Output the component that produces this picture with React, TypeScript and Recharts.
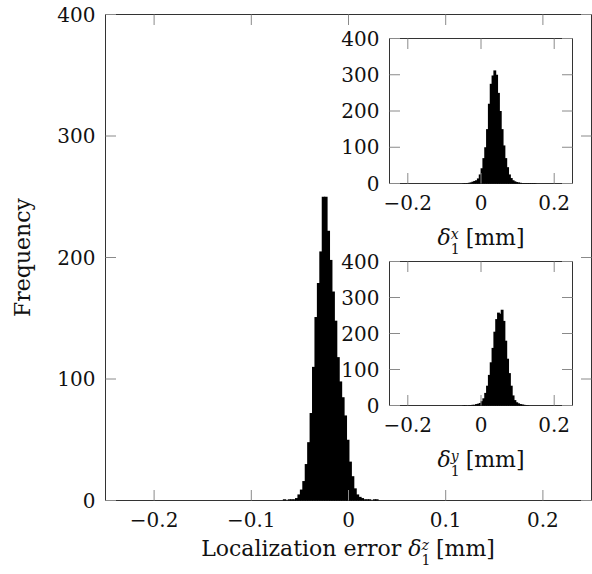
import React from 'react';
import { BarChart, Bar, XAxis, YAxis, ReferenceArea } from 'recharts';

// histogram of delta_1^z, bin edges start at zBinStart
const zBinStart = -0.0693;
const zBinWidth = 0.0025;
const zCounts = [
  0, 1, 0, 1, 1, 1, 2, 5, 9, 16, 30, 48, 72, 110, 151, 179, 205, 250,
  250, 222, 198, 172, 148, 118, 98, 85, 70, 50, 32, 20, 10, 5, 3, 2, 1, 1,
  1, 0, 1, 1,
];

// insets: delta_1^x and delta_1^y
const insetBinWidth = 0.005;
const xBinStart = -0.05;
const xCounts = [
  1, 1, 1, 2, 3, 5, 7, 9, 14, 25, 42, 70, 100, 150, 220, 275, 298, 312, 300, 250,
  200, 150, 105, 70, 45, 25, 15, 9, 6, 4, 3, 2, 1, 1, 1, 1, 1, 1, 1, 1,
];
const yBinStart = -0.05;
const yCounts = [
  1, 1, 0, 1, 1, 2, 2, 4, 5, 7, 12, 20, 35, 55, 85, 120, 160, 205, 240, 258,
  255, 266, 235, 180, 130, 90, 55, 28, 15, 9, 6, 4, 3, 2, 1, 1,
];

const mainXTicks = [-0.2, -0.1, 0, 0.1, 0.2];
const insetXTicks = [-0.2, 0, 0.2];
const yTicks = [0, 100, 200, 300, 400];

const X_DOMAIN: [number, number] = [-0.25, 0.25];
const FONT = 'DejaVu Serif';
const TICK_LEN = 10.5;
const TICK_COLOR = '#8a8a8a';
const FRAME_COLOR = '#333';
const TEXT_COLOR = '#111';

const toBins = (start: number, width: number, counts: number[]) =>
  counts.map((count, i) => ({ x: start + width * (i + 0.5), count }));

const fmt = (v: number) => (v < 0 ? `\u2212${Math.abs(v)}` : `${v}`);

interface Plot {
  left: number;
  top: number;
  right: number;
  bottom: number;
}

interface HistProps {
  data: Array<{ x: number; count: number }>;
  binWidth: number;
  left: number;
  top: number;
  width: number;
  height: number;
  plot: Plot; // plot frame in chart coords
  xTicks: number[];
}

const Histogram: React.FC<HistProps> = ({ data, binWidth, left, top, width, height, plot, xTicks }) => {
  // recharts shrinks/floors bar widths, so draw each bar at the full bin width
  // (plus a bit of overlap so antialiasing leaves no seams)
  const barPx = (binWidth * (plot.right - plot.left)) / (X_DOMAIN[1] - X_DOMAIN[0]) + 1;

  const BinShape = (props: any) => {
    const { x, y, width: w, height: h } = props;
    if (!h || h <= 0) return null;
    const cx = x + w / 2;
    return <rect x={cx - barPx / 2} y={y} width={barPx} height={h} fill="#000" />;
  };

  const XTick = (props: any) => {
    const { x, y, payload } = props;
    return (
      <g>
        <line x1={x} x2={x} y1={y} y2={y - TICK_LEN} stroke={TICK_COLOR} />
        <line x1={x} x2={x} y1={plot.top} y2={plot.top + TICK_LEN} stroke={TICK_COLOR} />
        <text x={x} y={y + 26} textAnchor="middle" fontFamily={FONT} fontSize={20} fill={TEXT_COLOR}>
          {fmt(payload.value)}
        </text>
      </g>
    );
  };

  const YTick = (props: any) => {
    const { x, y, payload } = props;
    return (
      <g>
        <line x1={x} x2={x + TICK_LEN} y1={y} y2={y} stroke={TICK_COLOR} />
        <line x1={plot.right - TICK_LEN} x2={plot.right} y1={y} y2={y} stroke={TICK_COLOR} />
        <text x={x - 10} y={y + 7} textAnchor="end" fontFamily={FONT} fontSize={20} fill={TEXT_COLOR}>
          {payload.value}
        </text>
      </g>
    );
  };

  return (
    <div style={{ position: 'absolute', left, top }}>
      <BarChart
        width={width}
        height={height}
        data={data}
        barCategoryGap={0}
        barGap={0}
        margin={{ top: plot.top, right: width - plot.right, bottom: 0, left: 0 }}
      >
        <XAxis
          dataKey="x"
          type="number"
          domain={X_DOMAIN}
          ticks={xTicks}
          interval={0}
          allowDataOverflow
          axisLine={false}
          tickLine={false}
          tickSize={0}
          tickMargin={0}
          height={height - plot.bottom}
          tick={XTick}
        />
        <YAxis
          type="number"
          domain={[0, 400]}
          ticks={yTicks}
          interval={0}
          axisLine={false}
          tickLine={false}
          tickSize={0}
          tickMargin={0}
          width={plot.left}
          tick={YTick}
        />
        <Bar dataKey="count" fill="#000" shape={BinShape} isAnimationActive={false} />
        <ReferenceArea
          x1={X_DOMAIN[0]}
          x2={X_DOMAIN[1]}
          y1={0}
          y2={400}
          fill="none"
          stroke={FRAME_COLOR}
          strokeWidth={1}
          ifOverflow="visible"
        />
      </BarChart>
    </div>
  );
};

const AxisLabel: React.FC<{ x: number; y: number; sup: string }> = ({ x, y, sup }) => (
  <text x={x} y={y} textAnchor="middle" fontFamily={FONT} fontSize={22} fill={TEXT_COLOR}>
    <tspan fontStyle="italic">δ</tspan>
    <tspan fontSize={14} dy={9}>1</tspan>
    <tspan fontSize={14} fontStyle="italic" dx={-8.9} dy={-15}>
      {sup}
    </tspan>
    <tspan dy={6}>{' [mm]'}</tspan>
  </text>
);

export default function App() {
  const zData = toBins(zBinStart, zBinWidth, zCounts);
  const xData = toBins(xBinStart, insetBinWidth, xCounts);
  const yData = toBins(yBinStart, insetBinWidth, yCounts);

  return (
    <div style={{ position: 'absolute', left: 0, top: 0, width: 592, height: 574, background: '#fff' }}>
      <Histogram
        data={zData}
        binWidth={zBinWidth}
        left={0}
        top={0}
        width={592}
        height={574}
        plot={{ left: 105.5, top: 14.5, right: 591.5, bottom: 500.5 }}
        xTicks={mainXTicks}
      />
      {/* delta x inset */}
      <Histogram
        data={xData}
        binWidth={insetBinWidth}
        left={330}
        top={20}
        width={250}
        height={210}
        plot={{ left: 59.5, top: 18.5, right: 242.5, bottom: 163.5 }}
        xTicks={insetXTicks}
      />
      {/* delta y inset */}
      <Histogram
        data={yData}
        binWidth={insetBinWidth}
        left={330}
        top={240}
        width={250}
        height={210}
        plot={{ left: 59.5, top: 21.5, right: 242.5, bottom: 165.5 }}
        xTicks={insetXTicks}
      />
      <svg
        width={592}
        height={574}
        style={{ position: 'absolute', left: 0, top: 0, pointerEvents: 'none' }}
      >
        <text
          x={30}
          y={257.5}
          transform="rotate(-90 30 257.5)"
          textAnchor="middle"
          fontFamily={FONT}
          fontSize={22}
          fill={TEXT_COLOR}
        >
          Frequency
        </text>
        <text x={348} y={556} textAnchor="middle" fontFamily={FONT} fontSize={22} fill={TEXT_COLOR}>
          {'Localization error '}
          <tspan fontStyle="italic">δ</tspan>
          <tspan fontSize={14} dy={9}>1</tspan>
          <tspan fontSize={14} fontStyle="italic" dx={-8.9} dy={-15}>
            z
          </tspan>
          <tspan dy={6}>{' [mm]'}</tspan>
        </text>
        <AxisLabel x={481} y={245} sup="x" />
        <AxisLabel x={481} y={467} sup="y" />
      </svg>
    </div>
  );
}
